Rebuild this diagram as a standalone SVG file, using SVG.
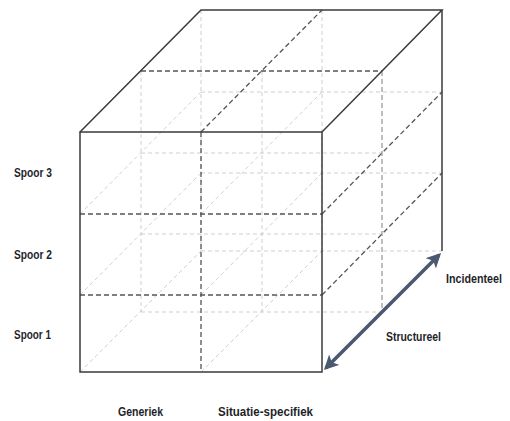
<svg xmlns="http://www.w3.org/2000/svg" width="510" height="421" viewBox="0 0 510 421">
<style>
.solid{stroke:#3a3a3a;stroke-width:1.5;fill:none}
.dark{stroke:#555;stroke-width:1.3;stroke-dasharray:5,3;fill:none}
.mid{stroke:#8a8a8a;stroke-width:1.1;stroke-dasharray:5,3;fill:none}
.light{stroke:#cfcfcf;stroke-width:1;stroke-dasharray:4,3;fill:none}
.lbl{font-family:"Liberation Sans Narrow","Liberation Sans",Arial,sans-serif;font-weight:bold;font-size:12.5px;fill:#1f1f2a}
</style>
<defs>
<marker id="ah" viewBox="0 0 10 10" refX="8" refY="5" markerWidth="4.2" markerHeight="4.2" orient="auto-start-reverse">
<path d="M0,0 L10,5 L0,10 L2.5,5 z" fill="#4a5870"/>
</marker>
</defs>
<rect width="510" height="421" fill="#fff"/>
<g id="hidden-lines">
<line class="light" x1="201" y1="10" x2="201" y2="251"/>
<line class="light" x1="322" y1="10" x2="322" y2="251"/>
<line class="light" x1="141" y1="71" x2="141" y2="312"/>
<line class="light" x1="262" y1="71" x2="262" y2="312"/>
<line class="light" x1="201" y1="92" x2="442" y2="92"/>
<line class="light" x1="201" y1="173" x2="442" y2="173"/>
<line class="light" x1="201" y1="251" x2="442" y2="251"/>
<line class="light" x1="141" y1="153" x2="382" y2="153"/>
<line class="light" x1="141" y1="234" x2="382" y2="234"/>
<line class="light" x1="141" y1="312" x2="382" y2="312"/>
<line class="light" x1="80" y1="214" x2="201" y2="92"/>
<line class="light" x1="80" y1="295" x2="201" y2="173"/>
<line class="light" x1="80" y1="372" x2="201" y2="251"/>
<line class="light" x1="201" y1="214" x2="322" y2="92"/>
<line class="light" x1="201" y1="295" x2="322" y2="173"/>
<line class="light" x1="201" y1="372" x2="322" y2="251"/>
</g>
<g id="visible-grid">
<line class="dark" x1="201" y1="132" x2="201" y2="372"/>
<line class="dark" x1="80" y1="214" x2="322" y2="214"/>
<line class="dark" x1="80" y1="295" x2="322" y2="295"/>
<line class="dark" x1="201" y1="132" x2="322" y2="10"/>
<line class="dark" x1="141" y1="71" x2="382" y2="71"/>
<line class="dark" x1="322" y1="214" x2="442" y2="92"/>
<line class="dark" x1="322" y1="295" x2="442" y2="173"/>
<line class="mid" x1="382" y1="71" x2="382" y2="312"/>
</g>
<g id="cube-edges">
<rect class="solid" x="80" y="132" width="242" height="240"/>
<polyline class="solid" points="80,132 201,10 442,10 322,132"/>
<line class="solid" x1="442" y1="10" x2="442" y2="251"/>
</g>
<g id="connectors">
<line x1="326" y1="368" x2="439" y2="255" stroke="#4a5870" stroke-width="3.5" marker-start="url(#ah)" marker-end="url(#ah)"/>
</g>
<g id="labels">
<text class="lbl" x="14" y="177" textLength="38" lengthAdjust="spacingAndGlyphs">Spoor 3</text>
<text class="lbl" x="14" y="259" textLength="38" lengthAdjust="spacingAndGlyphs">Spoor 2</text>
<text class="lbl" x="14" y="339" textLength="37" lengthAdjust="spacingAndGlyphs">Spoor 1</text>
<text class="lbl" x="118" y="416" textLength="45" lengthAdjust="spacingAndGlyphs">Generiek</text>
<text class="lbl" x="218" y="416" textLength="95" lengthAdjust="spacingAndGlyphs">Situatie-specifiek</text>
<text class="lbl" x="446" y="283" textLength="56" lengthAdjust="spacingAndGlyphs">Incidenteel</text>
<text class="lbl" x="386" y="341" textLength="55" lengthAdjust="spacingAndGlyphs">Structureel</text>
</g>
</svg>
